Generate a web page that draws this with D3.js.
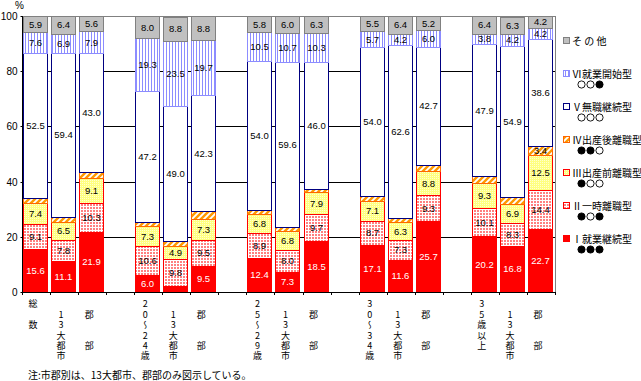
<!DOCTYPE html>
<html>
<head>
<meta charset="utf-8">
<script src="https://cdn.jsdelivr.net/npm/d3@7"></script>
<style>
  body { margin: 0; background: #fff; }
  svg { display: block; }
  text { font-family: "Liberation Sans", Arial, sans-serif; fill: #000; }
  .jp { font-family: "Noto Sans CJK JP", sans-serif; }
</style>
</head>
<body>
<svg width="641" height="381"></svg>
<script>
// categories (one per bar), grouped by three
const categories = ["総数", "13大都市", "郡部", "20～24歳", "13大都市", "郡部",
  "25～29歳", "13大都市", "郡部", "30～34歳", "13大都市", "郡部",
  "35歳以上", "13大都市", "郡部"];
// vertical tick labels (full-width space = blank line)
const tickLines = ["総　数", "　13大都市", "　郡　　部", "20～24歳", "　13大都市", "　郡　　部",
  "25～29歳", "　13大都市", "　郡　　部", "30～34歳", "　13大都市", "　郡　　部",
  "35歳以上", "　13大都市", "　郡　　部"];

// series values (%), bottom to top
const typeI   = [15.6, 11.1, 21.9, 6.0, 2.0, 9.5, 12.4, 7.3, 18.5, 17.1, 11.6, 25.7, 20.2, 16.8, 22.7];
const typeII  = [9.1, 7.8, 10.3, 10.6, 9.8, 9.5, 8.9, 8.0, 9.7, 8.7, 7.3, 9.3, 10.1, 8.3, 14.4];
const typeIII = [7.4, 6.5, 9.1, 7.3, 4.9, 7.3, 6.8, 6.8, 7.9, 7.1, 6.3, 8.8, 9.3, 6.9, 12.5];
const typeIV  = [1.9, 1.9, 2.2, 1.6, 1.8, 2.9, 1.6, 1.6, 1.3, 1.9, 1.6, 2.3, 2.3, 2.4, 3.4];
const typeV   = [52.5, 59.4, 43.0, 47.2, 49.0, 42.3, 54.0, 59.6, 46.0, 54.0, 62.6, 42.7, 47.9, 54.9, 38.6];
const typeVI  = [7.6, 6.9, 7.9, 19.3, 23.5, 19.7, 10.5, 10.7, 10.3, 5.7, 4.2, 6.0, 3.8, 4.2, 4.2];
const other   = [5.9, 6.4, 5.6, 8.0, 8.8, 8.8, 5.8, 6.0, 6.3, 5.5, 6.4, 5.2, 6.4, 6.3, 4.2];

const seriesKeys  = ["I", "II", "III", "IV", "V", "VI", "other"];
const seriesNames = ["Ⅰ就業継続型", "Ⅱ一時離職型", "Ⅲ出産前離職型", "Ⅳ出産後離職型", "Ⅴ無職継続型", "Ⅵ就業開始型", "そ の 他"];
const seriesMarks = ["●●●", "●○●", "●○○", "●●○", "○○○", "○○●", ""];
const yTicks = [0, 20, 40, 60, 80, 100];

const fills   = { I: "#ff0000", II: "url(#pII)", III: "url(#pIII)", IV: "url(#pIV)", V: "#ffffff", VI: "url(#pVI)", other: "#c0c0c0" };
const strokes = { I: "#ff0000", II: "#ff0000", III: "#ff0000", IV: "#ff6600", V: "#000080", VI: "#8c8cff", other: "#808080" };

const svg = d3.select('svg');
const defs = svg.append('defs');

// patterns
const p2 = defs.append('pattern').attr('id', 'pII').attr('patternUnits', 'userSpaceOnUse').attr('width', 3).attr('height', 3);
p2.append('rect').attr('width', 3).attr('height', 3).attr('fill', '#ff8080');
p2.append('rect').attr('x', 2).attr('width', 1).attr('height', 3).attr('fill', '#fff');
p2.append('rect').attr('y', 2).attr('width', 3).attr('height', 1).attr('fill', '#fff');

const p3 = defs.append('pattern').attr('id', 'pIII').attr('patternUnits', 'userSpaceOnUse').attr('width', 2).attr('height', 2);
p3.append('rect').attr('width', 2).attr('height', 2).attr('fill', '#ffff80');
p3.append('rect').attr('width', 1).attr('height', 1).attr('fill', '#ffffd0');

const p4 = defs.append('pattern').attr('id', 'pIV').attr('patternUnits', 'userSpaceOnUse').attr('width', 6).attr('height', 6);
p4.append('rect').attr('width', 6).attr('height', 6).attr('fill', '#fff');
p4.append('path').attr('d', 'M-1,1 L1,-1 M0,6 L6,0 M5,7 L7,5').attr('stroke', '#ff9900').attr('stroke-width', 2.4);

const p6 = defs.append('pattern').attr('id', 'pVI').attr('patternUnits', 'userSpaceOnUse').attr('width', 3).attr('height', 3);
p6.append('rect').attr('width', 3).attr('height', 3).attr('fill', '#fff');
p6.append('rect').attr('x', 1).attr('width', 1).attr('height', 3).attr('fill', '#8c8cff');

// scales
const slotOf = i => i + Math.floor(i / 3);
const x = d3.scaleBand().domain(d3.range(categories.length + 4)).range([22, 555]);
const y = d3.scaleLinear().domain([0, 100]).range([292, 16]);

const rows = categories.map((c, i) => ({
  cat: c, i,
  I: typeI[i], II: typeII[i], III: typeIII[i], IV: typeIV[i],
  V: typeV[i], VI: typeVI[i], other: other[i],
}));
const stacked = d3.stack().keys(seriesKeys)(rows);

// gridlines
svg.append('g').selectAll('line').data(yTicks.filter(v => v > 0 && v < 100)).join('line')
  .attr('x1', 22).attr('x2', 555)
  .attr('y1', d => Math.round(y(d)) + 0.5).attr('y2', d => Math.round(y(d)) + 0.5)
  .attr('stroke', '#000').attr('shape-rendering', 'crispEdges');

// frame (top and right in gray)
svg.append('path')
  .attr('d', 'M22,' + (y(100) + 0.5) + ' H555.5 V' + y(0))
  .attr('fill', 'none').attr('stroke', '#808080').attr('shape-rendering', 'crispEdges');

// bars
const bars = svg.append('g');
stacked.forEach(layer => {
  bars.append('g').selectAll('rect').data(layer).join('rect')
    .attr('x', d => Math.round(x(slotOf(d.data.i)) + 1) + 0.5)
    .attr('width', 24)
    .attr('y', d => Math.round(y(d[1])) + 0.5)
    .attr('height', d => Math.round(y(d[0])) - Math.round(y(d[1])))
    .attr('fill', fills[layer.key])
    .attr('stroke', strokes[layer.key])
    .attr('shape-rendering', 'crispEdges');
});

// value labels
stacked.forEach(layer => {
  bars.append('g').selectAll('text').data(layer.filter(d => d[1] - d[0] >= 3)).join('text')
    .attr('x', d => Math.round(x(slotOf(d.data.i)) + 1) + 12.5)
    .attr('y', d => (y(d[0]) + y(d[1])) / 2 + 3.5)
    .attr('text-anchor', 'middle')
    .attr('font-size', '9.5px')
    .style('fill', layer.key === 'I' ? '#fff' : '#000')
    .text(d => d3.format('.1f')(d.data[layer.key]));
});

// y axis
const yAxis = svg.append('g').attr('transform', 'translate(22.5,0)')
  .call(d3.axisLeft(y).tickValues(yTicks).tickSize(2).tickPadding(3));
yAxis.select('.domain').attr('stroke', '#000').attr('d', 'M0,' + y(100) + ' V' + (y(0) + 3));
yAxis.selectAll('.tick line').attr('stroke', '#000');
yAxis.selectAll('text').attr('font-size', '10px').style('font-family', '"Liberation Sans", Arial, sans-serif');
yAxis.selectAll('.tick').attr('transform', d => 'translate(0,' + (Math.round(y(d)) + 0.5) + ')');
svg.append('text').attr('x', 15).attr('y', 9).attr('font-size', '10px').text('%');

// x axis with ticks at category boundaries
const xb = svg.append('g');
xb.append('line').attr('x1', 22).attr('x2', 555).attr('y1', 292.5).attr('y2', 292.5)
  .attr('stroke', '#000').attr('shape-rendering', 'crispEdges');
xb.selectAll('.tk').data(x.domain().concat([x.domain().length])).join('line')
  .attr('x1', d => Math.round(x.range()[0] + d * x.step()) + 0.5)
  .attr('x2', d => Math.round(x.range()[0] + d * x.step()) + 0.5)
  .attr('y1', 292).attr('y2', 295)
  .attr('stroke', '#000').attr('shape-rendering', 'crispEdges');

// vertical category labels
const tl = svg.append('g');
categories.forEach((c, i) => {
  const cx = x(slotOf(i)) + x.bandwidth() / 2 - 3;
  tl.append('text').attr('class', 'jp')
    .attr('x', cx).attr('y', 299.5)
    .attr('font-size', '9px')
    .style('writing-mode', 'vertical-rl')
    .style('text-orientation', 'upright')
    .style('letter-spacing', '1.4px')
    .text(tickLines[i]);
});

// legend
const lg = svg.append('g');
const legendOrder = d3.range(seriesKeys.length).reverse();
legendOrder.forEach((si, k) => {
  const ly = 41 + k * 33;
  const key = seriesKeys[si];
  lg.append('rect').attr('x', 563.5).attr('y', ly - 3.5).attr('width', 6).attr('height', 6)
    .attr('fill', fills[key]).attr('stroke', strokes[key]).attr('shape-rendering', 'crispEdges');
  lg.append('text').attr('class', 'jp').attr('x', 572).attr('y', ly + 3.5)
    .attr('font-size', '10px').attr('xml:space', 'preserve')
    .text(seriesNames[si]);
  // marks: ● = filled, ○ = open
  lg.append('g').selectAll('circle').data(Array.from(seriesMarks[si])).join('circle')
    .attr('cx', (m, j) => 581.5 + j * 9)
    .attr('cy', ly + 10.5)
    .attr('r', 3.6)
    .attr('fill', m => m === '●' ? '#000' : '#fff')
    .attr('stroke', '#000')
    .attr('stroke-width', 0.9);
});

// note
svg.append('text').attr('class', 'jp').attr('x', 28).attr('y', 379)
  .attr('font-size', '10px').text('注:市郡別は、13大都市、郡部のみ図示している。');
</script>
</body>
</html>
